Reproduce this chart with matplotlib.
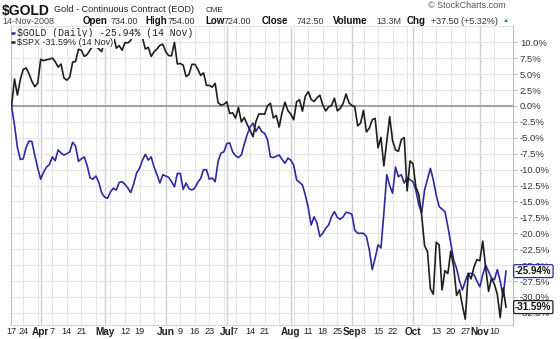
import numpy as np
import pandas as pd
import matplotlib
matplotlib.use("Agg")
import matplotlib.pyplot as plt

plt.rcParams['font.family'] = ['Liberation Sans', 'DejaVu Sans']

# trading days Mar 17 - Nov 14 2008
holidays = ['2008-03-21', '2008-05-26', '2008-07-04', '2008-09-01']
dates = pd.bdate_range('2008-03-17', '2008-11-14', freq='C', holidays=holidays)

# % change since 17 Mar
gold = [0.0, -3.0, -6.5, -8.4, -8.3, -6.5, -5.5, -5.6, -7.8, -9.8,
        -11.5, -10.4, -9.6, -9.2, -8.0, -8.6, -6.9, -7.4, -7.7, -7.5,
        -7.2, -5.7, -6.3, -8.7, -8.3, -8.0, -9.4, -11.3, -11.5, -11.0,
        -12.0, -13.7, -14.3, -14.5, -13.5, -12.9, -13.2, -12.0, -11.9, -12.3,
        -12.9, -13.6, -12.2, -10.5, -9.8, -8.5, -7.6, -8.5, -8.0, -9.6,
        -10.8, -12.1, -10.8, -11.0, -11.2, -11.9, -12.7, -10.6, -10.6, -13.1,
        -12.1, -13.0, -13.2, -12.9, -12.0, -11.4, -10.0, -10.0, -11.5, -11.3,
        -11.9, -8.7, -7.4, -7.2, -5.9, -5.8, -7.2, -7.8, -8.1, -7.7,
        -6.0, -4.5, -3.3, -2.7, -4.0, -3.2, -4.0, -4.3, -5.3, -8.0,
        -8.1, -7.9, -7.7, -8.4, -9.0, -8.2, -8.5, -9.3, -11.6, -12.0,
        -12.4, -14.0, -16.0, -18.7, -17.4, -18.4, -20.5, -20.0, -19.2, -18.7,
        -17.4, -16.6, -17.5, -17.8, -17.4, -16.7, -16.8, -17.0, -19.5, -20.0,
        -20.0, -20.0, -20.5, -22.6, -25.7, -23.9, -21.8, -22.3, -16.8, -10.8,
        -12.5, -13.7, -9.6, -11.1, -10.8, -12.1, -11.2, -11.6, -11.9, -13.2,
        -15.5, -16.8, -13.2, -11.5, -9.8, -11.6, -14.0, -15.8, -16.2, -16.6,
        -18.9, -21.6, -24.2, -25.5, -27.5, -28.9, -27.5, -26.3, -26.3, -26.5,
        -27.5, -28.4, -26.5, -25.0, -26.0, -27.0, -27.3, -25.7, -27.5, -29.9, -25.94]

spx = [0.0, 4.24, 1.71, 4.14, 5.74, 5.98, 5.05, 3.85, 3.03, 3.61,
       7.33, 7.12, 7.26, 7.35, 7.52, 6.97, 6.10, 6.58, 4.40, 4.05,
       4.53, 6.90, 6.97, 8.91, 8.74, 7.78, 8.09, 8.79, 9.50, 9.38,
       8.96, 8.54, 10.40, 10.76, 10.25, 11.10, 9.08, 9.48, 8.75, 9.95,
       9.90, 10.34, 11.51, 11.65, 11.75, 10.72, 8.94, 9.22, 7.78, 8.52,
       8.95, 9.53, 9.70, 8.54, 7.92, 7.88, 9.98, 6.59, 6.67, 6.41,
       4.61, 4.96, 6.54, 6.54, 5.82, 4.79, 5.19, 3.24, 3.24, 2.95,
       3.55, 0.51, 0.14, 0.27, 0.65, -1.18, -1.07, -1.90, -0.23, -2.50,
       -1.82, -2.91, -3.78, -4.83, -2.45, -1.28, -1.25, -1.30, 0.03, 0.44,
       -1.88, -1.48, -3.31, -1.05, 0.60, -0.72, -1.28, -2.16, 0.65, 0.99,
       -0.82, 1.54, 2.25, 1.02, 0.72, 1.28, 1.69, 0.16, -0.78, -0.16,
       0.09, 1.22, -0.76, -0.40, 0.40, 1.89, 0.49, 0.08, -0.13, -3.12,
       -2.69, -0.69, -4.08, -3.49, -2.16, -1.95, -6.57, -4.94, -9.42, -5.49,
       -1.69, -5.44, -6.92, -7.11, -5.28, -4.96, -13.33, -8.64, -9.05, -12.72,
       -13.89, -17.21, -21.96, -22.85, -28.72, -29.56, -21.40, -21.82, -28.89, -25.86,
       -26.32, -22.81, -25.19, -29.75, -28.87, -31.32, -33.50, -26.33, -27.14, -25.26,
       -24.11, -24.31, -21.22, -25.37, -29.12, -27.07, -28.00, -29.58, -33.24, -28.62, -31.59]

tick_dates = ['2008-03-17', '2008-03-24', '2008-04-01', '2008-04-07', '2008-04-14', '2008-04-21',
              '2008-05-01', '2008-05-12', '2008-05-19', '2008-06-02', '2008-06-09', '2008-06-16',
              '2008-06-23', '2008-07-01', '2008-07-07', '2008-07-14', '2008-07-21', '2008-08-01',
              '2008-08-11', '2008-08-18', '2008-08-25', '2008-09-02', '2008-09-08', '2008-09-15',
              '2008-09-22', '2008-10-01', '2008-10-13', '2008-10-20', '2008-10-27', '2008-11-03',
              '2008-11-10']
tick_labels = ['17', '24', 'Apr', '7', '14', '21', 'May', '12', '19', 'Jun', '9', '16', '23',
               'Jul', '7', '14', '21', 'Aug', '11', '18', '25', 'Sep', '8', '15', '22',
               'Oct', '13', '20', '27', 'Nov', '10']

y_ticks = np.arange(-32.5, 10.01, 2.5)

fig = plt.figure(figsize=(5.6, 3.39), dpi=100)
ax = fig.add_axes([11/560, 1-325/339, 502/560, 299/339])
x = np.arange(len(dates))

# grid: weekly lines, darker month lines
wk = dates.isocalendar().week.values
for i in range(1, len(dates)):
    if dates[i].month != dates[i-1].month:
        ax.axvline(i, color='#cfcfcf', lw=1.0, zorder=1)
    elif wk[i] != wk[i-1]:
        ax.axvline(i, color='#e6e6e6', lw=0.8, zorder=1)
for v in np.arange(-32.5, 12.6, 2.5):
    if abs(v) > 0.01:
        ax.axhline(v, color='#e6e6e6', lw=0.8, zorder=1)
ax.axhline(0, color='#999999', lw=1.3, zorder=2)

ax.plot(x, spx, color='#1e1e1e', lw=1.2, zorder=4)
ax.plot(x, gold, color='#2b2ba3', lw=1.2, zorder=3)

ax.set_xlim(-0.2, 172.4)
ax.set_ylim(-34.4, 12.56)

ax.yaxis.tick_right()
ax.set_yticks(y_ticks)
ax.set_yticklabels(['%.1f%%' % v for v in y_ticks], fontsize=6.8, color='#333333')
ax.tick_params(axis='y', length=3, width=0.6, color='#aaaaaa', pad=2)

pos = [dates.get_loc(pd.Timestamp(d)) for d in tick_dates]
ax.set_xticks(pos)
ax.set_xticklabels(tick_labels, fontsize=6.6, color='#222222')
for t in ax.get_xticklabels():
    if t.get_text().isalpha():
        t.set_fontweight('bold')
        t.set_fontsize(7.2)
ax.tick_params(axis='x', length=0, pad=1.5)

for s in ['left', 'right']:
    ax.spines[s].set_color('#bbbbbb')
    ax.spines[s].set_linewidth(0.8)
ax.spines['top'].set_visible(False)
ax.spines['bottom'].set_color('#cccccc')
ax.spines['bottom'].set_linestyle(':')

# legend lines over the plot
ax.text(0.012, 0.975, '$GOLD (Daily) -25.94% (14 Nov)', transform=ax.transAxes,
        family=['Liberation Mono', 'DejaVu Sans Mono'], fontsize=7, color='#222222',
        va='center', ha='left', zorder=6,
        bbox=dict(facecolor='white', edgecolor='none', pad=0.5))
ax.text(0.012, 0.945, '$SPX -31.59% (14 Nov)', transform=ax.transAxes,
        fontsize=6.5, color='#222222', va='center', ha='left', zorder=6,
        bbox=dict(facecolor='white', edgecolor='none', pad=0.5))
ax.plot([0.0, 0.008], [0.977, 0.977], transform=ax.transAxes, color='#2b2ba3', lw=1.8, zorder=7,
        solid_capstyle='butt')
ax.plot([0.0, 0.008], [0.946, 0.946], transform=ax.transAxes, color='#1e1e1e', lw=1.8, zorder=7,
        solid_capstyle='butt')

# last value tags
for val, col in [(gold[-1], '#2b2ba3'), (spx[-1], '#1e1e1e')]:
    ax.annotate('%.2f%%' % val, xy=(1.0, val), xycoords=('axes fraction', 'data'),
                xytext=(1.5, 0), textcoords='offset points', fontsize=7, fontweight='bold',
                color='#111111', va='center', ha='left', annotation_clip=False, zorder=8,
                bbox=dict(boxstyle='round,pad=0.15', facecolor='white', edgecolor=col, lw=0.9))

# header
fig.text(2/560, 1-11/339, '$GOLD', fontsize=10, fontweight='bold', va='center', color='#111111')
fig.text(54/560, 1-10/339, 'Gold - Continuous Contract (EOD)', fontsize=6.6, va='center', color='#222222')
fig.text(206/560, 1-10.5/339, 'CME', fontsize=5.8, va='center', color='#222222')

row = 1 - 21/339
fig.text(2/560, row, '14-Nov-2008', fontsize=6.5, va='center', color='#444444')
items = [('Open', 83, True), ('734.00', 111, False), ('High', 145, True), ('754.00', 168, False),
         ('Low', 205, True), ('724.00', 224, False), ('Close', 262, True), ('742.50', 297, False),
         ('Volume', 333, True), ('13.3M', 376, False), ('Chg', 407, True),
         ('+37.50 (+5.32%)', 431, False)]
for txt, px, b in items:
    fig.text(px/560, row, txt, fontsize=7 if b else 6.5, va='center',
             fontweight='bold' if b else 'normal', color='#111111' if b else '#333333')
fig.text(503/560, row, '\u25b2', fontsize=4.5, va='center', color='#1a9a3a')
fig.text(506/560, 1-6/339, '\u00a9 StockCharts.com', fontsize=6.5, va='center', ha='right',
         color='#555555')

fig.savefig('out.png', dpi=100)
